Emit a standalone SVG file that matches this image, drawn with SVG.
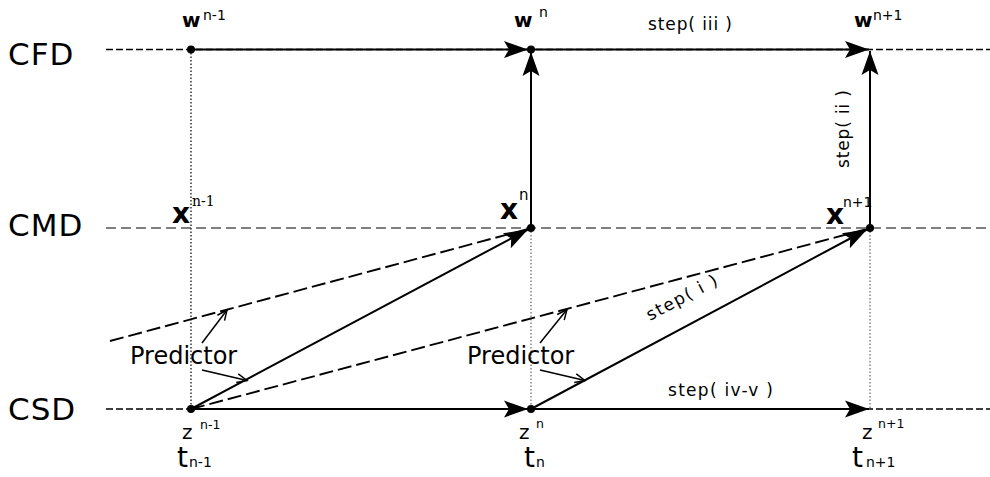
<svg xmlns="http://www.w3.org/2000/svg" width="990" height="477" viewBox="0 0 990 477">
<defs>
<style>
.lbl{font-family:"DejaVu Sans",sans-serif;font-size:31px;letter-spacing:1px;fill:#000}
.sans{font-family:"DejaVu Sans",sans-serif;fill:#000}
.serif{font-family:"DejaVu Serif",serif;fill:#000}
.bold{font-family:"DejaVu Sans",sans-serif;font-weight:bold;fill:#000}
.step{font-family:"DejaVu Sans",sans-serif;font-size:17px;fill:#000}
.pred{font-family:"DejaVu Sans",sans-serif;font-size:24px;fill:#000}
.axis{stroke:#000;stroke-width:1.3;stroke-dasharray:7 3;fill:none}
.axisg{stroke:#555;stroke-width:1.6;stroke-dasharray:10 5;fill:none}
.solid{stroke:#000;stroke-width:2;fill:none}
.dash{stroke:#000;stroke-width:1.9;stroke-dasharray:14 5;fill:none}
.dot{stroke:#000;stroke-width:1.2;stroke-dasharray:1.5 2;fill:none}
.dotg{stroke:#666;stroke-width:1.2;stroke-dasharray:1.5 2;fill:none}
.thin{stroke:#000;stroke-width:1.5;fill:none}
</style>
<marker id="ah" viewBox="-26 -10 28 20" refX="0" refY="0" markerWidth="28" markerHeight="20" markerUnits="userSpaceOnUse" orient="auto">
<path d="M0,0 L-24,-8.5 L-19,0 L-24,8.5 Z" fill="#000"/>
</marker>
<marker id="oa" viewBox="-12 -6 14 12" refX="0" refY="0" markerWidth="14" markerHeight="12" markerUnits="userSpaceOnUse" orient="auto">
<path d="M-10,-4.5 L0,0 L-10,4.5" fill="none" stroke="#000" stroke-width="1.5"/>
</marker>
</defs>

<g id="labels">
<text class="lbl" x="8" y="65">CFD</text>
<text class="lbl" x="8" y="236">CMD</text>
<text class="lbl" x="8" y="420">CSD</text>
</g>

<g id="connectors">
<line class="axis" x1="106" y1="49.5" x2="990" y2="49.5"/>
<line class="axisg" x1="106" y1="228" x2="990" y2="228"/>
<line class="axis" x1="106" y1="409" x2="990" y2="409"/>
<line class="dot" x1="191" y1="49.5" x2="191" y2="409"/>
<line class="dotg" x1="531" y1="228" x2="531" y2="409"/>
<line class="dotg" x1="870" y1="228" x2="870" y2="409"/>
<line class="solid" x1="191" y1="49.5" x2="528" y2="49.5" marker-end="url(#ah)"/>
<line class="solid" x1="531" y1="49.5" x2="869" y2="49.5" marker-end="url(#ah)"/>
<line class="solid" x1="191" y1="409" x2="528" y2="409" marker-end="url(#ah)"/>
<line class="solid" x1="531" y1="409" x2="869" y2="409" marker-end="url(#ah)"/>
<line class="solid" x1="531" y1="228" x2="531" y2="52" marker-end="url(#ah)"/>
<line class="solid" x1="870" y1="228" x2="870" y2="51" marker-end="url(#ah)"/>
<line class="dash" x1="110" y1="341" x2="528" y2="229"/>
<line class="solid" x1="191" y1="409" x2="528" y2="229.5" marker-end="url(#ah)"/>
<line class="dash" x1="191" y1="409" x2="867" y2="229"/>
<line class="solid" x1="531" y1="409" x2="867" y2="229.5" marker-end="url(#ah)"/>
<line class="thin" x1="202" y1="343" x2="227" y2="310" marker-end="url(#oa)"/>
<line class="thin" x1="202" y1="370" x2="247" y2="380.5" marker-end="url(#oa)"/>
<line class="thin" x1="540" y1="343" x2="567" y2="309.5" marker-end="url(#oa)"/>
<line class="thin" x1="540" y1="370" x2="585" y2="380.5" marker-end="url(#oa)"/>
</g>

<g id="dots">
<circle cx="191" cy="49.5" r="4"/>
<circle cx="531" cy="49.5" r="4"/>
<circle cx="531" cy="228" r="4"/>
<circle cx="870" cy="228" r="4"/>
<circle cx="191" cy="409" r="4"/>
<circle cx="531" cy="409" r="4"/>
</g>

<g id="w_nm1">
<text class="bold" x="182" y="27" font-size="20">w</text>
<text class="sans" x="203" y="20" font-size="14">n-1</text>
</g>
<g id="w_n">
<text class="bold" x="514" y="27" font-size="20">w</text>
<text class="sans" x="539" y="17" font-size="14">n</text>
</g>
<g id="w_np1">
<text class="bold" x="854" y="27" font-size="20">w</text>
<text class="sans" x="873" y="20" font-size="14">n+1</text>
</g>

<g id="x_nm1">
<text class="bold" x="172" y="223" font-size="28">x</text>
<text class="serif" x="192" y="206" font-size="14">n-1</text>
</g>
<g id="x_n">
<text class="bold" x="500" y="219" font-size="28">x</text>
<text class="sans" x="519" y="200" font-size="15">n</text>
</g>
<g id="x_np1">
<text class="bold" x="826" y="224" font-size="28">x</text>
<text class="sans" x="843" y="207" font-size="14">n+1</text>
</g>

<g id="z_nm1">
<text class="sans" x="182" y="439" font-size="20">z</text>
<text class="sans" x="200" y="429" font-size="12.5">n-1</text>
<text class="sans" x="177" y="467" font-size="28">t</text>
<text class="sans" x="189" y="467" font-size="14">n-1</text>
</g>
<g id="z_n">
<text class="sans" x="519" y="439" font-size="20">z</text>
<text class="sans" x="536" y="428" font-size="12.5">n</text>
<text class="sans" x="524" y="467" font-size="28">t</text>
<text class="sans" x="536" y="467" font-size="14">n</text>
</g>
<g id="z_np1">
<text class="sans" x="862" y="439" font-size="20">z</text>
<text class="sans" x="878" y="428" font-size="12.5">n+1</text>
<text class="sans" x="852" y="467" font-size="28">t</text>
<text class="sans" x="866" y="467" font-size="14">n+1</text>
</g>

<g id="steps">
<text class="step" x="648" y="30" textLength="84" lengthAdjust="spacing">step( iii )</text>
<text class="step" transform="translate(849,168) rotate(-90)" x="0" y="0" textLength="78" lengthAdjust="spacing">step( ii )</text>
<text class="step" transform="translate(650,321) rotate(-28)" x="0" y="0" textLength="78" lengthAdjust="spacing">step( i )</text>
<text class="step" x="668" y="396" textLength="105" lengthAdjust="spacing">step( iv-v )</text>
</g>

<g id="predictors">
<text class="pred" x="130" y="364">Predictor</text>
<text class="pred" x="467" y="364">Predictor</text>
</g>
</svg>
